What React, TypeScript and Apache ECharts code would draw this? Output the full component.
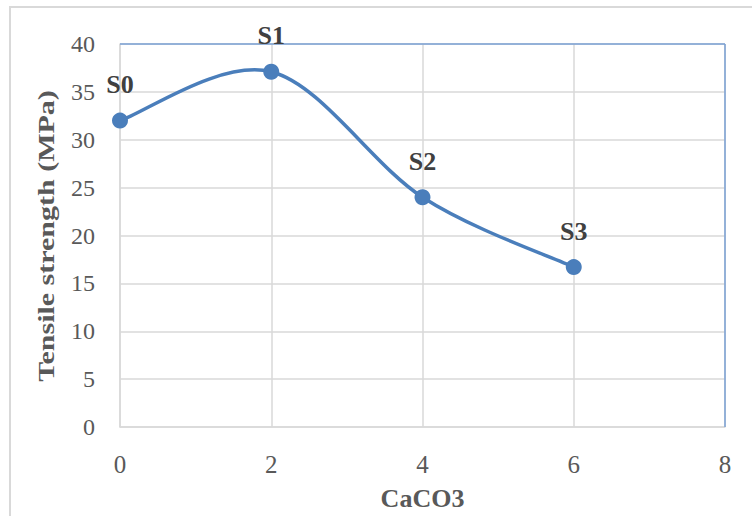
import React, { useEffect, useRef } from "react";
import * as echarts from "echarts";

const xValues = [0, 2, 4, 6];
const strength = [32, 37.1, 24, 16.7];
const pointLabels = ["S0", "S1", "S2", "S3"];
const xTitle = "CaCO3";
const yTitle = "Tensile strength (MPa)";

const LINE_COLOR = "#4a7ebb";

export default function App() {
  const ref = useRef<HTMLDivElement>(null);
  useEffect(() => {
    if (!ref.current) return;
    const chart = echarts.init(ref.current, null, { renderer: "svg" });
    const font = "'Liberation Serif', 'Times New Roman', serif";

    const renderCurve = (params: any, api: any) => {
      const pts = xValues.map((x, i) => api.coord([x, strength[i]]));
      const n = pts.length;
      const children: any[] = [];
      for (let i = 0; i < n - 1; i++) {
        const p0 = pts[Math.max(0, i - 1)];
        const p1 = pts[i];
        const p2 = pts[i + 1];
        const p3 = pts[Math.min(n - 1, i + 2)];
        children.push({
          type: "bezierCurve",
          shape: {
            x1: p1[0],
            y1: p1[1],
            cpx1: p1[0] + (p2[0] - p0[0]) / 6,
            cpy1: p1[1] + (p2[1] - p0[1]) / 6,
            cpx2: p2[0] - (p3[0] - p1[0]) / 6,
            cpy2: p2[1] - (p3[1] - p1[1]) / 6,
            x2: p2[0],
            y2: p2[1],
          },
          style: { stroke: LINE_COLOR, lineWidth: 3.5, fill: "none", lineCap: "round" },
        });
      }
      return { type: "group", children };
    };

    chart.setOption({
      animation: false,
      backgroundColor: "#ffffff",
      graphic: [
        {
          type: "rect",
          shape: { x: 10, y: 7, width: 780, height: 560 },
          style: { fill: "none", stroke: "#d9d9d9", lineWidth: 2 },
          silent: true,
          z: -1,
        },
        {
          type: "line",
          shape: { x1: 120, y1: 44, x2: 725, y2: 44 },
          style: { stroke: "#7aa0d4", lineWidth: 1.5 },
          z: 5,
        },
        {
          type: "line",
          shape: { x1: 725, y1: 44, x2: 725, y2: 427 },
          style: { stroke: "#7aa0d4", lineWidth: 1.5 },
          z: 5,
        },
        {
          type: "text",
          x: 46,
          y: 236,
          rotation: Math.PI / 2,
          scaleX: 1.25,
          style: {
            text: yTitle,
            fontFamily: font,
            fontSize: 24,
            fontWeight: "bold",
            fill: "#595959",
            textAlign: "center",
            textVerticalAlign: "middle",
          },
          z: 5,
        },
      ],
      grid: { left: 120, right: 27, top: 44, bottom: 89, containLabel: false },
      xAxis: {
        type: "value",
        min: 0,
        max: 8,
        interval: 2,
        name: xTitle,
        nameLocation: "middle",
        nameGap: 58,
        nameTextStyle: { fontFamily: font, fontSize: 26, fontWeight: "bold", color: "#595959" },
        axisLine: { show: true, lineStyle: { color: "#d9d9d9", width: 1.5 } },
        axisTick: { show: false },
        axisLabel: { fontFamily: font, fontSize: 25, color: "#595959", margin: 25 },
        splitLine: { show: true, lineStyle: { color: "#d9d9d9", width: 1.5 } },
      },
      yAxis: {
        type: "value",
        min: 0,
        max: 40,
        interval: 5,
        axisLine: { show: true, lineStyle: { color: "#d9d9d9", width: 1.5 } },
        axisTick: { show: false },
        axisLabel: { fontFamily: font, fontSize: 24, color: "#595959", margin: 25 },
        splitLine: { show: true, lineStyle: { color: "#d9d9d9", width: 1.5 } },
      },
      series: [
        {
          type: "custom",
          renderItem: renderCurve,
          data: [[0, 0]],
          clip: false,
          silent: true,
          z: 8,
        },
        {
          type: "scatter",
          data: xValues.map((x, i) => [x, strength[i]]),
          symbol: "circle",
          symbolSize: 16,
          itemStyle: { color: LINE_COLOR, opacity: 1 },
          label: {
            show: true,
            position: "top",
            distance: 15,
            formatter: (p: any) => pointLabels[p.dataIndex],
            fontFamily: font,
            fontSize: 26,
            fontWeight: "bold",
            color: "#404040",
          },
          labelLayout: { hideOverlap: false },
          z: 10,
        },
      ],
    });
    return () => chart.dispose();
  }, []);
  return (
    <div
      ref={ref}
      style={{ position: "absolute", left: 0, top: 0, width: 752, height: 516 }}
    />
  );
}
